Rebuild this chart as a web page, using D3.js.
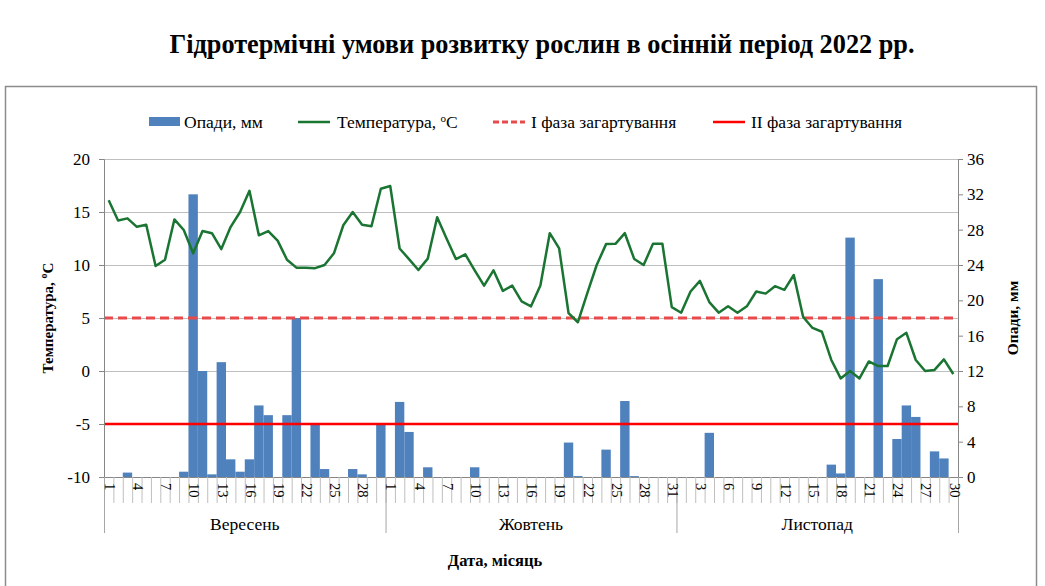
<!DOCTYPE html>
<html><head><meta charset="utf-8">
<script src="https://cdn.jsdelivr.net/npm/d3@7"></script>
<style>body{margin:0;background:#fff}svg{display:block}text{font-family:"Liberation Serif","Times New Roman",serif}</style>
</head><body>
<svg id="c" width="1045" height="586"></svg>
<script>
const months = ["Вересень", "Жовтень", "Листопад"];
const monthDays = [30, 31, 30];
const tempSep = [16.1,14.2,14.4,13.6,13.8,9.9,10.5,14.3,13.3,11.1,13.2,13.0,11.5,13.6,15.0,17.0,12.8,13.2,12.3,10.5,9.75,9.75,9.7,10.0,11.1,13.75,15.0,13.8,13.65,17.2];
const tempOct = [17.45,11.56,10.56,9.53,10.6,14.5,12.5,10.56,11.0,9.5,8.06,9.5,7.56,8.06,6.56,6.1,8.06,13.0,11.56,5.47,4.6,7.34,10.0,11.97,12.0,13.0,10.56,10.0,12.0,12.0,6.03];
const tempNov = [5.5,7.5,8.5,6.5,5.5,6.1,5.5,6.1,7.5,7.3,8.0,7.66,9.06,5.1,4.06,3.7,1.04,-0.7,0.0,-0.7,0.9,0.47,0.47,3.0,3.6,1.04,0.0,0.1,1.1,-0.28];
const precSep = [0,0,0.5,0,0,0,0,0,0.6,32.0,12.0,0.3,13.0,2.0,0.6,2.0,8.1,7.0,0,7.0,18.0,0,6.0,0.9,0,0,0.9,0.3,0,6.0];
const precOct = [0,8.5,5.1,0,1.1,0,0,0,0,1.1,0,0,0,0,0,0,0,0,0,3.9,0.1,0,0,3.1,0,8.6,0.1,0,0,0,0];
const precNov = [0,0,0,5.0,0,0,0,0,0,0,0,0,0,0,0,0,1.4,0.4,27.1,0,0,22.4,0,4.3,8.1,6.8,0,2.9,2.1,0];
const leftTicks = [-10,-5,0,5,10,15,20];
const rightTicks = [0,4,8,12,16,20,24,28,32,36];
const phase1 = 5, phase2 = -5;
const title = "Гідротермічні умови розвитку рослин в осінній період 2022 рр.";

const temp = tempSep.concat(tempOct, tempNov);
const prec = precSep.concat(precOct, precNov);
const days = [];
monthDays.forEach((n, m) => { for (let d = 1; d <= n; d++) days.push({m, d}); });
const N = days.length;

const svg = d3.select("#c");
const L = 104, R = 958, T = 159, B = 477;
const x = d3.scaleBand().domain(d3.range(N)).range([L, R]).padding(0);
const yL = d3.scaleLinear().domain([-10, 20]).range([B, T]);
const yR = d3.scaleLinear().domain([0, 36]).range([B, T]);

// frame
svg.append("rect").attr("x", 5.5).attr("y", 86.5).attr("width", 1031).attr("height", 520)
  .attr("fill", "none").attr("stroke", "#8c8c8c").attr("stroke-width", 1.5);

// title
svg.append("text").attr("x", 542).attr("y", 53).attr("text-anchor", "middle")
  .attr("font-size", 27).attr("font-weight", "bold").attr("textLength", 745)
  .attr("lengthAdjust", "spacingAndGlyphs").text(title);

// gridlines
svg.append("g").selectAll("line").data(leftTicks.filter(t => t > -10)).join("line")
  .attr("x1", L).attr("x2", R).attr("y1", d => yL(d) + 0.5).attr("y2", d => yL(d) + 0.5)
  .attr("stroke", "#bfbfbf").attr("stroke-width", 1);

// bars
svg.append("g").selectAll("rect").data(prec).join("rect")
  .attr("x", (d, i) => x(i)).attr("width", x.bandwidth())
  .attr("y", d => yR(d)).attr("height", d => yR(0) - yR(d))
  .attr("fill", "#4f81bd");

// phase lines
svg.append("line").attr("x1", L).attr("x2", R).attr("y1", yL(phase1)).attr("y2", yL(phase1))
  .attr("stroke", "#e8494a").attr("stroke-width", 3).attr("stroke-dasharray", "9,5");
svg.append("line").attr("x1", L).attr("x2", R).attr("y1", yL(phase2)).attr("y2", yL(phase2))
  .attr("stroke", "#ff0000").attr("stroke-width", 2.5);

// temperature line
svg.append("path").datum(temp)
  .attr("d", d3.line().x((d, i) => x(i) + x.bandwidth() / 2).y(d => yL(d)))
  .attr("fill", "none").attr("stroke", "#1a7432").attr("stroke-width", 2.5).attr("stroke-linejoin", "round");

// left axis
const ga = svg.append("g").attr("transform", `translate(${L},0)`)
  .call(d3.axisLeft(yL).tickValues(leftTicks).tickFormat(d => String(d)).tickSize(5).tickPadding(9));
ga.select(".domain").attr("stroke", "#868686");
ga.selectAll(".tick line").attr("stroke", "#868686");
ga.selectAll("text").attr("font-size", 17).attr("font-family", "Liberation Serif").attr("fill", "#000");

// right axis
const gr = svg.append("g").attr("transform", `translate(${R},0)`)
  .call(d3.axisRight(yR).tickValues(rightTicks).tickFormat(d => String(d)).tickSize(5).tickPadding(4));
gr.select(".domain").attr("stroke", "#868686");
gr.selectAll(".tick line").attr("stroke", "#868686");
gr.selectAll("text").attr("font-size", 17).attr("font-family", "Liberation Serif").attr("fill", "#000");

// x axis
const gx = svg.append("g");
gx.append("line").attr("x1", L).attr("x2", R).attr("y1", B + 0.5).attr("y2", B + 0.5).attr("stroke", "#868686");
gx.selectAll("line.t").data(d3.range(N + 1)).join("line").attr("class", "t")
  .attr("x1", i => (i < N ? x(i) : R) + 0.5).attr("x2", i => (i < N ? x(i) : R) + 0.5)
  .attr("y1", B).attr("y2", B + 26).attr("stroke", "#bfbfbf");
const bounds = [0];
monthDays.forEach((n, k) => bounds.push(bounds[k] + n));
gx.selectAll("line.m").data(bounds).join("line").attr("class", "m")
  .attr("x1", i => (i < N ? x(i) : R) + 0.5).attr("x2", i => (i < N ? x(i) : R) + 0.5)
  .attr("y1", B).attr("y2", B + 56).attr("stroke", "#a6a6a6");
gx.selectAll("text.d").data(d3.range(0, N, 3)).join("text").attr("class", "d")
  .attr("transform", i => `translate(${x(i) + x.bandwidth() / 2 + 1},${B + 6}) rotate(90)`)
  .attr("dy", "0.33em").attr("font-size", 14.5).text(i => days[i].d);
gx.selectAll("text.mo").data(months).join("text").attr("class", "mo")
  .attr("x", (m, k) => (x(bounds[k]) + (bounds[k + 1] < N ? x(bounds[k + 1]) : R)) / 2)
  .attr("y", 530).attr("text-anchor", "middle").attr("font-size", 17.5).text(m => m);

// axis titles
const lt = svg.append("text").attr("transform", `translate(53,318) rotate(-90)`)
  .attr("text-anchor", "middle").attr("font-size", 15).attr("font-weight", "bold");
lt.append("tspan").text("Температура, ");
lt.append("tspan").attr("font-size", 10).attr("dy", -6).text("o");
lt.append("tspan").attr("dy", 6).text("С");
svg.append("text").attr("transform", `translate(1018,318) rotate(-90)`)
  .attr("text-anchor", "middle").attr("font-size", 15.5).attr("font-weight", "bold").text("Опади, мм");
svg.append("text").attr("x", 495).attr("y", 566).attr("text-anchor", "middle")
  .attr("font-size", 16.5).attr("font-weight", "bold").text("Дата, місяць");

// legend
const lg = svg.append("g");
lg.append("rect").attr("x", 149).attr("y", 117).attr("width", 31).attr("height", 9).attr("fill", "#4f81bd");
lg.append("text").attr("x", 184).attr("y", 127.5).attr("font-size", 17.5).text("Опади, мм");
lg.append("line").attr("x1", 298).attr("x2", 330).attr("y1", 122).attr("y2", 122).attr("stroke", "#1a7432").attr("stroke-width", 2.5);
const t2 = lg.append("text").attr("x", 337).attr("y", 127.5).attr("font-size", 17.5);
t2.append("tspan").text("Температура, ");
t2.append("tspan").attr("font-size", 11).attr("dy", -6).text("o");
t2.append("tspan").attr("dy", 6).text("C");
lg.append("line").attr("x1", 493).attr("x2", 525).attr("y1", 122).attr("y2", 122)
  .attr("stroke", "#e8494a").attr("stroke-width", 3).attr("stroke-dasharray", "6,3");
lg.append("text").attr("x", 531).attr("y", 127.5).attr("font-size", 17.5).text("I фаза загартування");
lg.append("line").attr("x1", 713).attr("x2", 745).attr("y1", 122).attr("y2", 122).attr("stroke", "#ff0000").attr("stroke-width", 2.5);
lg.append("text").attr("x", 751).attr("y", 127.5).attr("font-size", 17.5).text("II фаза загартування");
</script>
</body></html>
